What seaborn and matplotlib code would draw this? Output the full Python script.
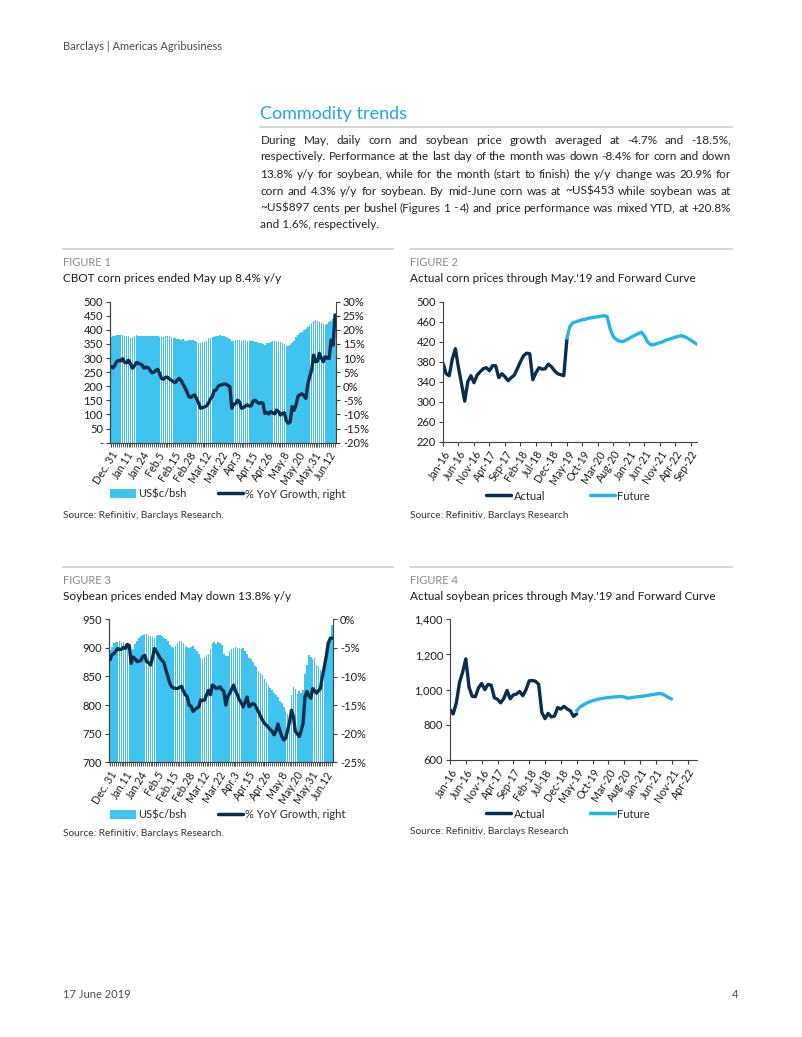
import matplotlib
matplotlib.use("Agg")
import matplotlib.pyplot as plt
import pandas as pd
import seaborn as sns
from matplotlib.lines import Line2D
from matplotlib.patches import Patch
from matplotlib.ticker import FuncFormatter

# ---- daily series, Dec 31 2018 .. mid June 2019 (figures 1 and 3) ----
day_labels = ["Dec. 31", "Jan.11", "Jan.24", "Feb.5", "Feb.15", "Feb.28", "Mar.12",
              "Mar.22", "Apr.3", "Apr.15", "Apr.26", "May.8", "May.20", "May.31", "Jun.12"]

corn_price = [376, 378, 380, 381, 382, 381, 383, 380, 379, 378,
              372, 374, 379, 381, 380, 378, 377, 379, 378, 377,
              379, 378, 379, 380, 378, 376, 374, 375, 377, 379,
              378, 376, 372, 370, 368, 367, 365, 366, 362, 360,
              365, 364, 363, 361, 358, 355, 354, 356, 358, 360,
              370, 372, 374, 376, 378, 380, 381, 380, 378, 376,
              372, 366, 360, 362, 364, 365, 363, 362, 364, 363,
              362, 362, 360, 360, 358, 356, 355, 352, 350, 348,
              352, 355, 358, 360, 362, 360, 358, 356, 352, 350,
              344, 342, 345, 352, 362, 375, 382, 388, 392, 398,
              402, 410, 418, 426, 432, 435, 430, 428, 425, 420,
              418, 420, 428, 432, 440, 452]

corn_yoy = [7.0, 6.5, 7.5, 8.8, 9.2, 9.0, 9.8, 8.5, 8.3, 9.3,
            8.0, 6.4, 7.2, 8.4, 8.2, 7.9, 7.5, 6.4, 6.8, 6.6,
            5.8, 4.8, 5.0, 5.6, 6.0, 4.5, 2.7, 2.5, 3.2, 3.2,
            2.6, 2.2, 1.6, 1.3, 2.2, 2.8, 2.0, 0.8, -0.5, -2.0,
            -3.7, -3.9, -3.3, -3.1, -4.5, -6.0, -7.8, -7.6, -7.3, -7.0,
            -6.0, -4.5, -3.7, -1.5, -1.3, 0.0, 0.4, 0.6, 0.8, 0.8,
            0.3, -0.1, -7.8, -6.4, -6.1, -4.9, -5.6, -7.8, -7.6, -7.0,
            -6.6, -7.0, -6.9, -5.2, -4.9, -5.6, -6.1, -5.8, -6.0, -9.6,
            -9.3, -9.8, -9.0, -9.4, -9.8, -8.4, -9.0, -10.2, -9.6, -9.4,
            -12.2, -13.1, -12.6, -7.2, -8.5, -6.6, -3.5, -3.0, -2.7, -3.2,
            -4.3, 0.5, 3.4, 5.8, 11.1, 8.7, 8.9, 11.7, 10.0, 8.7,
            10.5, 9.9, 9.9, 16.4, 14.6, 25.3]

soy_price = [896, 902, 908, 911, 910, 912, 909, 911, 907, 905,
             900, 893, 898, 906, 912, 917, 920, 922, 925, 924,
             923, 921, 919, 918, 920, 922, 923, 921, 918, 916,
             912, 905, 902, 900, 904, 908, 912, 912, 908, 904,
             902, 900, 901, 903, 898, 894, 890, 882, 880, 884,
             888, 890, 898, 908, 910, 907, 910, 908, 905, 890,
             886, 885, 895, 898, 900, 901, 899, 900, 898, 900,
             895, 890, 882, 880, 875, 868, 866, 860, 856, 852,
             846, 840, 836, 830, 826, 822, 818, 815, 808, 803,
             796, 790, 785, 780, 818, 832, 828, 820, 824, 822,
             826, 855, 870, 888, 884, 880, 882, 870, 868, 862,
             858, 856, 872, 900, 920, 940]

soy_yoy = [-7.1, -6.2, -6.0, -5.6, -5.1, -5.3, -5.2, -4.9, -5.1, -4.4,
           -4.6, -7.7, -6.6, -6.9, -7.4, -7.3, -7.2, -6.5, -6.3, -7.4,
           -7.6, -8.0, -6.8, -5.1, -5.6, -6.2, -6.8, -7.2, -7.6, -8.9,
           -10.0, -11.2, -11.8, -12.0, -12.1, -12.1, -11.9, -11.7, -12.5, -13.2,
           -13.5, -15.0, -15.2, -16.1, -15.8, -15.5, -15.3, -14.1, -14.2, -14.1,
           -13.2, -12.4, -13.2, -11.5, -11.7, -12.1, -12.0, -11.8, -12.3, -12.6,
           -15.0, -13.5, -13.0, -12.2, -11.5, -12.5, -13.2, -14.1, -14.6, -15.3,
           -14.5, -13.6, -15.3, -15.0, -14.7, -14.9, -15.6, -16.2, -17.0, -17.6,
           -18.2, -18.5, -18.9, -19.3, -19.6, -20.2, -19.5, -18.3, -19.5, -20.5,
           -21.1, -20.8, -19.4, -17.9, -15.9, -17.0, -19.6, -20.0, -20.5, -19.5,
           -18.2, -13.5, -12.6, -13.4, -13.8, -12.1, -12.5, -12.9, -12.5, -12.1,
           -10.0, -8.3, -6.5, -4.2, -3.4, -3.3]

# ---- monthly series from Jan-16 (figures 2 and 4) ----
corn_month_labels = ["Jan-16", "Jun-16", "Nov-16", "Apr-17", "Sep-17", "Feb-18", "Jul-18",
                     "Dec-18", "May-19", "Oct-19", "Mar-20", "Aug-20", "Jan-21", "Jun-21",
                     "Nov-21", "Apr-22", "Sep-22"]
soy_month_labels = corn_month_labels[:16]

corn_actual = [377, 356, 352, 385, 406, 368, 335, 301, 340, 352,
               338, 353, 360, 366, 368, 362, 372, 372, 348, 356,
               350, 342, 348, 353, 366, 380, 392, 397, 396, 344,
               358, 368, 365, 366, 375, 370, 362, 356, 354, 352,
               425]
corn_future = [427, 451, 458, 460, 462, 464, 465, 467, 468, 469,
               470, 471, 472, 470, 445, 430, 424, 421, 420, 423,
               426, 430, 433, 436, 439, 432, 420, 414, 414, 416,
               418, 420, 423, 425, 427, 429, 431, 432, 430, 427,
               423, 419, 415]

soy_actual = [888, 862, 925, 1040, 1100, 1175, 1015, 962, 960, 1010,
              1035, 1000, 1030, 1025, 955, 945, 925, 950, 995, 948,
              970, 975, 990, 965, 1000, 1050, 1052, 1048, 1030, 870,
              835, 865, 845, 850, 898, 890, 905, 890, 880, 848,
              862]
soy_future = [880, 900, 912, 922, 930, 937, 942, 947, 950, 953,
              955, 957, 959, 960, 962, 958, 952, 953, 956, 959,
              961, 963, 966, 969, 972, 975, 978, 976, 966, 955,
              947]

# ---- page text ----
paragraph = [
    "During May, daily corn and soybean price growth averaged at -4.7% and -18.5%,",
    "respectively. Performance at the last day of the month was down -8.4% for corn and down",
    "13.8% y/y for soybean, while for the month (start to finish) the y/y change was 20.9% for",
    "corn and 4.3% y/y for soybean. By mid-June corn was at ~US$453 while soybean was at",
    "~US$897 cents per bushel (Figures 1 - 4) and price performance was mixed YTD, at +20.8%",
    "and 1.6%, respectively.",
]

BAR = "#3fc4ef"
NAVY = "#0b2d4c"
CYAN = "#22b6e8"
AXC = "#404040"
W, H = 802, 1037

sns.set_style("ticks")
plt.rcParams["font.family"] = ["Lato", "DejaVu Sans"]
plt.rcParams["axes.edgecolor"] = AXC
plt.rcParams["axes.linewidth"] = 0.8

fig = plt.figure(figsize=(W / 100, H / 100), dpi=100)


def box(x0, y0, x1, y1):
    return [x0 / W, 1 - y1 / H, (x1 - x0) / W, (y1 - y0) / H]


def txt(x, y, s, **kw):
    kw.setdefault("va", "center")
    return fig.text(x / W, 1 - y / H, s, **kw)


def hline(x0, x1, y, color="#d4d4d4", lw=1.4):
    fig.add_artist(Line2D([x0 / W, x1 / W], [1 - y / H, 1 - y / H],
                          transform=fig.transFigure, color=color, lw=lw))


def justified(lines, x0, x1, y0, dy, **kw):
    # word-by-word placement so each full line spans the column, like the report
    r = fig.canvas.get_renderer()
    for i, line in enumerate(lines):
        y = y0 + i * dy
        if i == len(lines) - 1:
            txt(x0, y, line, va="baseline", **kw)
            continue
        words = line.split(" ")
        arts = [txt(0, y, w, va="baseline", **kw) for w in words]
        widths = [a.get_window_extent(r).width for a in arts]
        gap = (x1 - x0 - sum(widths)) / (len(words) - 1)
        x = x0
        for a, w in zip(arts, widths):
            a.set_x(x / W)
            x += w + gap


def style_ax(ax, right=False):
    ax.spines["top"].set_visible(False)
    ax.spines["right"].set_visible(right)
    ax.tick_params(axis="both", length=3, width=0.8, color=AXC, labelsize=8,
                   pad=2, labelcolor="#1a1a1a")
    ax.tick_params(axis="x", labelsize=7.7)
    ax.set_xlabel("")
    ax.set_ylabel("")


def pct(v, _):
    return f"{v:.0f}%"


def daily_chart(rect, prices, yoy, ylim, ystep, rlim, rstep, zero_dash):
    n = len(prices)
    df = pd.DataFrame({"day": range(n), "price": prices, "yoy": yoy})
    ax = fig.add_axes(box(*rect))
    sns.barplot(data=df, x="day", y="price", color=BAR, saturation=1,
                width=0.8, edgecolor="none", ax=ax)
    ax.set_ylim(*ylim)
    ax.set_yticks(range(ylim[0], ylim[1] + 1, ystep))
    if zero_dash:
        ax.yaxis.set_major_formatter(FuncFormatter(lambda v, _: "-" if v == 0 else f"{v:.0f}"))
    axr = ax.twinx()
    sns.lineplot(data=df, x="day", y="yoy", color=NAVY, lw=2.4, ax=axr)
    axr.set_ylim(*rlim)
    axr.set_yticks(range(rlim[0], rlim[1] + 1, rstep))
    axr.yaxis.set_major_formatter(FuncFormatter(pct))
    for a in (ax, axr):
        style_ax(a, right=a is axr)
    ax.spines["right"].set_visible(False)
    ax.set_xlim(-0.5, n - 0.5)
    ax.set_xticks(range(0, 8 * len(day_labels), 8))
    ax.set_xticklabels(day_labels, rotation=58, ha="right", rotation_mode="anchor")
    ax.set_xticks(range(n), minor=True)
    ax.tick_params(axis="x", which="minor", length=3, width=0.6, color=AXC)
    return ax


def monthly_chart(rect, actual, future, labels, ylim, ystep, xmax, comma):
    ax = fig.add_axes(box(*rect))
    start = len(actual) - 1
    sns.lineplot(x=range(len(actual)), y=actual, color=NAVY, lw=2.4, ax=ax)
    sns.lineplot(x=range(start, start + len(future)), y=future, color=CYAN, lw=2.4, ax=ax)
    ax.set_ylim(*ylim)
    ax.set_yticks(range(ylim[0], ylim[1] + 1, ystep))
    if comma:
        ax.yaxis.set_major_formatter(FuncFormatter(lambda v, _: f"{v:,.0f}"))
    ax.set_xlim(0, xmax)
    ax.set_xticks(range(0, 5 * len(labels), 5))
    ax.set_xticklabels(labels, rotation=58, ha="right", rotation_mode="anchor")
    style_ax(ax)
    return ax


# ---- page furniture ----
txt(63, 46, "Barclays | Americas Agribusiness", fontsize=8, color="#4a4a4a")
txt(260, 114, "Commodity trends", fontsize=13, color="#1fa8dc")
hline(260, 732, 127)
justified(paragraph, 260.5, 731, 143.5, 17, fontsize=8.5, color="#222222")
hline(63, 393, 249)
hline(410, 732, 249)
hline(63, 393, 567)
hline(410, 732, 567)

heads = [(63, 262, "FIGURE 1", "CBOT corn prices ended May up 8.4% y/y"),
         (410, 262, "FIGURE 2", "Actual corn prices through May.'19 and Forward Curve"),
         (63, 580, "FIGURE 3", "Soybean prices ended May down 13.8% y/y"),
         (410, 580, "FIGURE 4", "Actual soybean prices through May.'19 and Forward Curve")]
for x, y, fig_no, title in heads:
    txt(x, y, fig_no, fontsize=8, color="#8a8a8a")
    txt(x, y + 17, title, fontsize=8.5, color="#1a1a1a")

# ---- charts ----
daily_chart((110, 301.7, 336, 442.7), corn_price, corn_yoy, (0, 500), 50, (-20, 30), 5, True)
daily_chart((109, 619.3, 333, 762.3), soy_price, soy_yoy, (700, 950), 50, (-25, 0), 5, False)
monthly_chart((443, 301.7, 697, 441.7), corn_actual, corn_future, corn_month_labels,
              (220, 500), 40, 82, False)
monthly_chart((450, 619.3, 697, 760), soy_actual, soy_future, soy_month_labels,
              (600, 1400), 200, 78, True)

# ---- legends and sources ----
leg_kw = dict(loc="center", ncol=2, frameon=False, fontsize=8, handletextpad=0.2,
              handlelength=2.3, handleheight=0.9, borderaxespad=0)
bar_handles = [Patch(facecolor=BAR, edgecolor="none"), Line2D([], [], color=NAVY, lw=2.5)]
fut_handles = [Line2D([], [], color=NAVY, lw=2.5), Line2D([], [], color=CYAN, lw=2.5)]
for y in (494, 815):
    fig.legend(bar_handles, ["US$c/bsh", "% YoY Growth, right"], columnspacing=2.8,
               bbox_to_anchor=(228 / W, 1 - y / H), **leg_kw)
for y in (496, 814):
    fig.legend(fut_handles, ["Actual", "Future"], columnspacing=4.0,
               bbox_to_anchor=(568 / W, 1 - y / H), **leg_kw)

txt(63, 515, "Source: Refinitiv, Barclays Research.", fontsize=7.3, color="#333333")
txt(410, 515, "Source: Refinitiv, Barclays Research", fontsize=7.3, color="#333333")
txt(63, 833, "Source: Refinitiv, Barclays Research.", fontsize=7.3, color="#333333")
txt(410, 832, "Source: Refinitiv, Barclays Research", fontsize=7.3, color="#333333")

txt(63, 995, "17 June 2019", fontsize=8, color="#4a4a4a")
txt(738, 995, "4", fontsize=8, color="#4a4a4a", ha="right")

fig.savefig("out.png", dpi=100)
